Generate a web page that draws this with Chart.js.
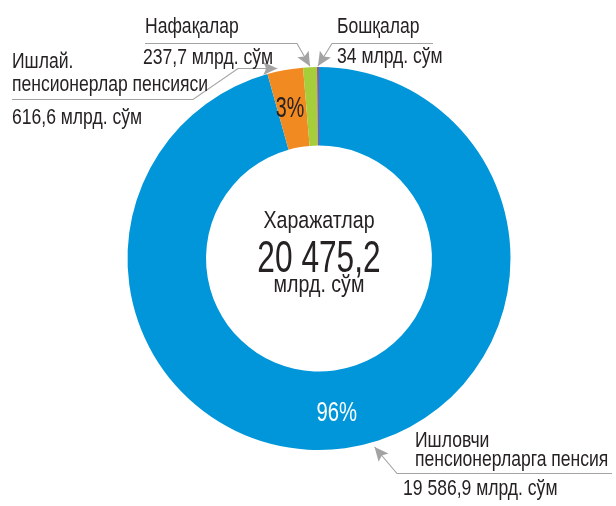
<!DOCTYPE html>
<html>
<head>
<meta charset="utf-8">
<script src="https://cdn.jsdelivr.net/npm/chart.js@4.4.1/dist/chart.umd.min.js"></script>
<style>
  html, body { margin: 0; padding: 0; background: #ffffff; }
  #wrap { width: 616px; height: 506px; }
</style>
</head>
<body>
<div id="wrap"><canvas id="c" width="616" height="506"></canvas></div>
<script>
// Expenditure structure (млрд. сўм)
const categories = [
  'Ишловчи пенсионерларга пенсия',
  'Ишлай. пенсионерлар пенсияси',
  'Нафақалар',
  'Бошқалар'
];
const values = [19586.9, 616.6, 237.7, 34];
const valueLabels = ['19 586,9', '616,6', '237,7', '34'];
const totalLabel = '20 475,2';
const unit = 'млрд. сўм';
const centerTitle = 'Харажатлар';
const colors = ['#0096d9', '#f28a22', '#a6cd3a', '#9e4e9c'];

const FONT = '"Liberation Sans", Arial, sans-serif';
const SQUEEZE = 0.78;      // condensed look for all captions
const INK = '#262223';
const LEADER = '#a3a3a3';

function label(ctx, s, x, y, size, align, color, squeeze) {
  ctx.save();
  ctx.font = size + 'px ' + FONT;
  ctx.fillStyle = color || INK;
  ctx.textBaseline = 'alphabetic';
  ctx.textAlign = align || 'left';
  ctx.translate(x, y);
  ctx.scale(squeeze || SQUEEZE, 1);
  ctx.fillText(s, 0, 0);
  ctx.restore();
}

// point on the outer rim of an arc at a fraction of its sweep
function rimPoint(arc, frac, pad) {
  const a = arc.startAngle + (arc.endAngle - arc.startAngle) * frac;
  const r = arc.outerRadius + pad;
  return { x: arc.x + Math.cos(a) * r, y: arc.y + Math.sin(a) * r };
}

function leader(ctx, pts) {
  ctx.save();
  ctx.strokeStyle = LEADER;
  ctx.lineWidth = 1.1;
  ctx.beginPath();
  ctx.moveTo(pts[0].x, pts[0].y);
  for (let i = 1; i < pts.length; i++) ctx.lineTo(pts[i].x, pts[i].y);
  ctx.stroke();
  // arrow head at the last point
  const p = pts[pts.length - 1], q = pts[pts.length - 2];
  const ang = Math.atan2(p.y - q.y, p.x - q.x);
  const L = 14, W = 6.5;
  ctx.fillStyle = LEADER;
  ctx.beginPath();
  ctx.moveTo(p.x, p.y);
  ctx.lineTo(p.x - L * Math.cos(ang) + W * Math.sin(ang), p.y - L * Math.sin(ang) - W * Math.cos(ang));
  ctx.lineTo(p.x - L * 0.8 * Math.cos(ang), p.y - L * 0.8 * Math.sin(ang));
  ctx.lineTo(p.x - L * Math.cos(ang) - W * Math.sin(ang), p.y - L * Math.sin(ang) + W * Math.cos(ang));
  ctx.closePath();
  ctx.fill();
  ctx.restore();
}

const annotations = {
  id: 'annotations',
  afterDatasetsDraw(chart) {
    const ctx = chart.ctx;
    const arcs = chart.getDatasetMeta(0).data;
    const total = values.reduce((s, v) => s + v, 0);

    // percentage captions inside the ring
    values.forEach((v, i) => {
      const pct = Math.round(v / total * 100);
      if (pct < 2) return;
      const p = arcs[i].tooltipPosition();
      if (i === 0) {
        label(ctx, pct + '%', p.x - 3, p.y + 12, 27, 'center', '#ffffff', 0.75);
      } else {
        label(ctx, pct + '%', p.x - 2, p.y + 8, 29, 'center', INK, 0.68);
      }
    });

    // centre caption
    const cx = arcs[0].x;
    label(ctx, centerTitle, cx, 228, 24.5, 'center', INK, 0.8);
    label(ctx, totalLabel, cx, 272, 44, 'center', INK, 0.72);
    label(ctx, unit, cx, 292, 24.5, 'center', INK, 0.8);

    const fs = 22.5;
    // Ишлай. пенсионерлар пенсияси
    let t = rimPoint(arcs[1], 0.3, 3);
    leader(ctx, [{x: 12, y: 99.5}, {x: 193, y: 99.5}, {x: 238, y: t.y}, t]);
    label(ctx, 'Ишлай.', 12, 68, fs);
    label(ctx, 'пенсионерлар пенсияси', 12, 91, fs);
    label(ctx, valueLabels[1] + ' ' + unit, 12, 124, fs);

    // Нафақалар
    t = rimPoint(arcs[2], 0.5, 1);
    leader(ctx, [{x: 145, y: 43.5}, {x: 297, y: 43.5}, t]);
    label(ctx, categories[2], 145, 33, fs);
    label(ctx, valueLabels[2] + ' ' + unit, 143, 64, fs);

    // Бошқалар
    t = rimPoint(arcs[3], 0.5, 1);
    leader(ctx, [{x: 433, y: 43.5}, {x: 332, y: 43.5}, t]);
    label(ctx, categories[3], 337, 33, fs);
    label(ctx, valueLabels[3] + ' ' + unit, 337, 63, fs);

    // Ишловчи пенсионерларга пенсия
    t = rimPoint(arcs[0], 0.475, 5);
    leader(ctx, [{x: 612, y: 473.5}, {x: 397, y: 473.5}, t]);
    label(ctx, 'Ишловчи', 415, 447, fs);
    label(ctx, 'пенсионерларга пенсия', 415, 466, fs);
    label(ctx, valueLabels[0] + ' ' + unit, 403, 495, fs);
  }
};

new Chart(document.getElementById('c'), {
  type: 'doughnut',
  data: {
    labels: categories,
    datasets: [{
      data: values,
      backgroundColor: colors,
      borderWidth: 0
    }]
  },
  options: {
    responsive: false,
    animation: false,
    cutout: '59%',
    rotation: 0,
    layout: { padding: { left: 127, right: 105, top: 67, bottom: 56 } },
    plugins: { legend: { display: false }, tooltip: { enabled: false } }
  },
  plugins: [annotations]
});
</script>
</body>
</html>
